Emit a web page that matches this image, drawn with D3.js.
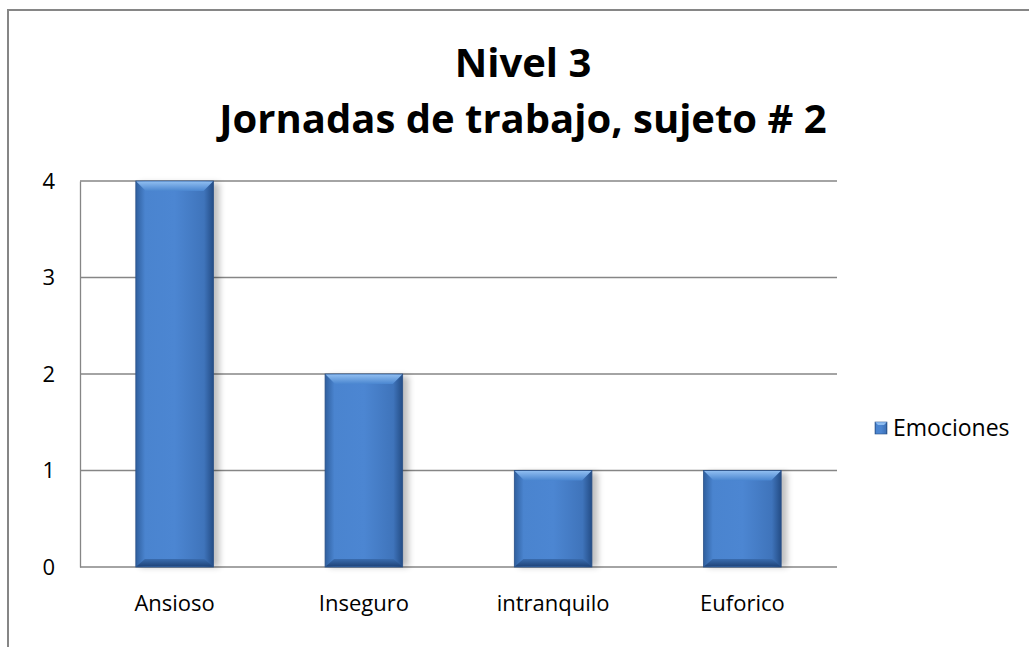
<!DOCTYPE html>
<html>
<head>
<meta charset="utf-8">
<script src="https://d3js.org/d3.v7.min.js"></script>
<style>
  body { margin: 0; background: #fff; }
  text { font-family: "Open Sans", sans-serif; }
</style>
</head>
<body>
<svg width="1029" height="647"></svg>
<script>
  // data
  var categories = ["Ansioso", "Inseguro", "intranquilo", "Euforico"];
  var values = [4, 2, 1, 1];
  var yTicks = [0, 1, 2, 3, 4];
  var seriesName = "Emociones";
  var titleLines = ["Nivel 3", "Jornadas de trabajo, sujeto # 2"];

  var svg = d3.select("svg");
  var plot = {left: 80, right: 837, top: 181, bottom: 567};

  // outer frame (only left and top visible)
  svg.append("path")
    .attr("d", "M8,647 L8,10 L1029,10")
    .attr("fill", "none")
    .attr("stroke", "#868686")
    .attr("stroke-width", 2);

  var defs = svg.append("defs");
  var hg = defs.append("linearGradient").attr("id", "barH").attr("x1", 0).attr("x2", 1).attr("y1", 0).attr("y2", 0);
  hg.append("stop").attr("offset", "0%").attr("stop-color", "#2f5f9e");
  hg.append("stop").attr("offset", "12%").attr("stop-color", "#4a84cf");
  hg.append("stop").attr("offset", "50%").attr("stop-color", "#4c86d2");
  hg.append("stop").attr("offset", "88%").attr("stop-color", "#3f74bb");
  hg.append("stop").attr("offset", "100%").attr("stop-color", "#244d86");
  var tg = defs.append("linearGradient").attr("id", "barTop").attr("x1", 0).attr("x2", 0).attr("y1", 0).attr("y2", 1);
  tg.append("stop").attr("offset", "0%").attr("stop-color", "#8fbdf0");
  tg.append("stop").attr("offset", "100%").attr("stop-color", "#4a86d0");
  var bg = defs.append("linearGradient").attr("id", "barBot").attr("x1", 0).attr("x2", 0).attr("y1", 0).attr("y2", 1);
  bg.append("stop").attr("offset", "0%").attr("stop-color", "#3a6cae");
  bg.append("stop").attr("offset", "100%").attr("stop-color", "#1f4479");
  var sh = defs.append("filter").attr("id", "shadow").attr("x", "-20%").attr("y", "-5%").attr("width", "150%").attr("height", "115%");
  sh.append("feGaussianBlur").attr("stdDeviation", 3);

  var x = d3.scaleBand().domain(categories).range([plot.left, plot.right]).paddingInner(0.59).paddingOuter(0.295);
  var y = d3.scaleLinear().domain([0, 4]).range([plot.bottom, plot.top]);

  // gridlines
  svg.append("g").selectAll("line").data(yTicks).enter().append("line")
    .attr("x1", plot.left).attr("x2", plot.right)
    .attr("y1", function(d){ return y(d); }).attr("y2", function(d){ return y(d); })
    .attr("stroke", "#868686").attr("stroke-width", 1.3);

  // axes
  var yAxis = svg.append("g").attr("transform", "translate(" + plot.left + ",0)")
    .call(d3.axisLeft(y).tickValues(yTicks).tickSize(0).tickPadding(25).tickFormat(d3.format("d")));
  yAxis.select(".domain").attr("stroke", "#868686").attr("stroke-width", 1.3);
  yAxis.selectAll("text").attr("font-size", 22).attr("fill", "#000").attr("font-family", "Open Sans");

  var xAxis = svg.append("g").attr("transform", "translate(0," + plot.bottom + ")")
    .call(d3.axisBottom(x).tickSize(0).tickPadding(28));
  xAxis.select(".domain").remove();
  xAxis.selectAll("text").attr("font-size", 22).attr("fill", "#000").attr("font-family", "Open Sans");

  // bars
  var bars = svg.append("g").selectAll("g").data(values).enter().append("g")
    .attr("transform", function(d, i){ return "translate(" + x(categories[i]) + "," + y(d) + ")"; });
  var bw = x.bandwidth();
  bars.append("rect")
    .attr("x", 4).attr("y", 2).attr("width", bw + 2)
    .attr("height", function(d){ return y(0) - y(d) - 2; })
    .attr("fill", "#000").attr("opacity", 0.25).attr("filter", "url(#shadow)");
  bars.append("rect")
    .attr("width", bw).attr("height", function(d){ return y(0) - y(d); })
    .attr("fill", "url(#barH)").attr("stroke", "#2a5087").attr("stroke-width", 0.8);
  bars.append("path")
    .attr("d", "M0.5,0.5 L" + (bw - 0.5) + ",0.5 L" + (bw - 10) + ",10 L10,10 Z")
    .attr("fill", "url(#barTop)");
  bars.append("path")
    .attr("d", function(d){ var h = y(0) - y(d); return "M0.5," + (h - 0.5) + " L" + (bw - 0.5) + "," + (h - 0.5) + " L" + (bw - 9) + "," + (h - 8) + " L9," + (h - 8) + " Z"; })
    .attr("fill", "url(#barBot)");

  // legend
  var lg = svg.append("g").attr("transform", "translate(875,422)");
  lg.append("rect").attr("width", 12).attr("height", 12).attr("fill", "url(#barH)").attr("stroke", "#2a5087").attr("stroke-width", 0.6);
  lg.append("path").attr("d", "M0.3,0.3 L11.7,0.3 L9,3 L3,3 Z").attr("fill", "#8fbdf0");
  lg.append("text").attr("x", 18).attr("y", 14).attr("font-size", 23).text(seriesName);

  // title
  svg.append("g").selectAll("text").data(titleLines).enter().append("text")
    .attr("x", 523).attr("y", function(d, i){ return 77 + i * 56; })
    .attr("text-anchor", "middle").attr("font-size", 40).attr("font-weight", "bold")
    .text(function(d){ return d; });
</script>
</body>
</html>
